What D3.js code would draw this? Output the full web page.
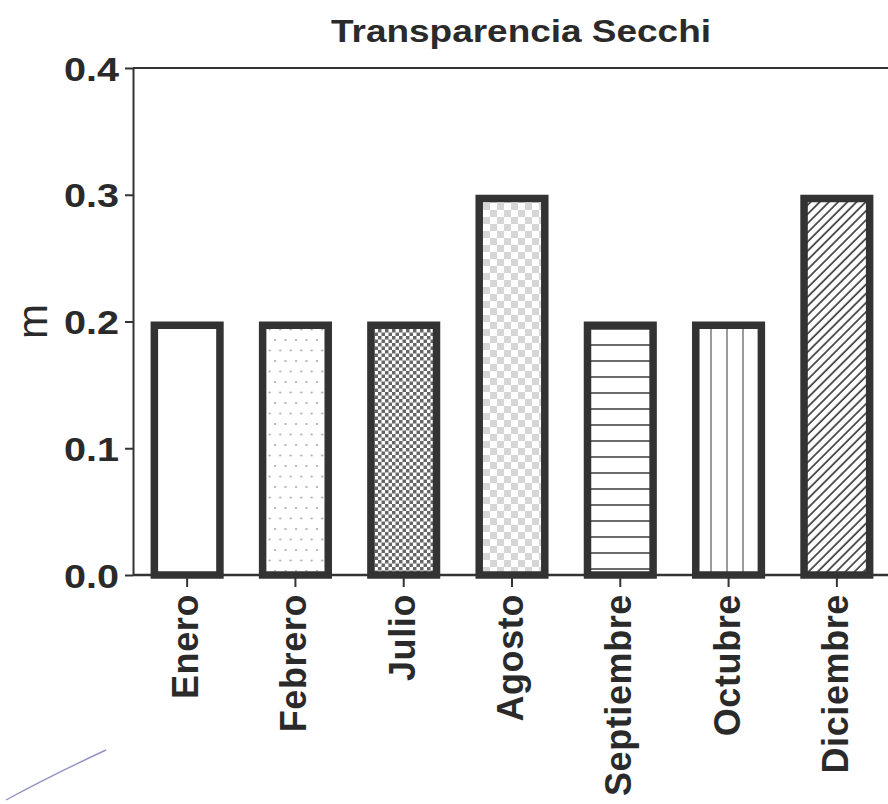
<!DOCTYPE html>
<html>
<head>
<meta charset="utf-8">
<script src="https://cdn.jsdelivr.net/npm/d3@7"></script>
<style>
  html, body { margin: 0; padding: 0; background: #fff; }
  svg { display: block; }
  text { font-family: "Liberation Sans", Arial, sans-serif; fill: #2a2a2a; }
</style>
</head>
<body>
<svg id="chart" width="888" height="804"></svg>
<script>
// ---- Data ----
const categories = ["Enero", "Febrero", "Julio", "Agosto", "Septiembre", "Octubre", "Diciembre"];
const values = [0.2, 0.2, 0.2, 0.3, 0.2, 0.2, 0.3];
const fills = ["none", "dots", "checkFine", "checkLight", "hlines", "vlines", "diag"];
const yTicks = [0.0, 0.1, 0.2, 0.3, 0.4];
const title = "Transparencia Secchi";
const yLabel = "m";

(function () {
// ---- Setup ----
const svg = d3.select("#chart");
const ink = "#333";
const mLeft = 133, mRight = 891, mTop = 68, mBottom = 575;

const x = d3.scaleBand().domain(categories).range([mLeft, mRight])
  .paddingInner(0.325).paddingOuter(0.1625);
const y = d3.scaleLinear().domain([0, 0.4]).range([mBottom, mTop]);

// ---- Patterns ----
const defs = svg.append("defs");
// sparse staggered dots
let p = defs.append("pattern").attr("id", "dots").attr("patternUnits", "userSpaceOnUse")
  .attr("width", 10.5).attr("height", 21);
p.append("rect").attr("width", 10.5).attr("height", 21).attr("fill", "#fff");
p.append("circle").attr("cx", 2).attr("cy", 4).attr("r", 1.1).attr("fill", "#a8a8a8");
p.append("circle").attr("cx", 7.2).attr("cy", 14.5).attr("r", 1.1).attr("fill", "#a8a8a8");
// fine dark checker
p = defs.append("pattern").attr("id", "checkFine").attr("patternUnits", "userSpaceOnUse")
  .attr("width", 7).attr("height", 7);
p.append("rect").attr("width", 7).attr("height", 7).attr("fill", "#fff");
p.append("rect").attr("width", 3.5).attr("height", 3.5).attr("fill", "#666");
p.append("rect").attr("x", 3.5).attr("y", 3.5).attr("width", 3.5).attr("height", 3.5).attr("fill", "#666");
// light big checker
p = defs.append("pattern").attr("id", "checkLight").attr("patternUnits", "userSpaceOnUse")
  .attr("width", 14).attr("height", 14);
p.append("rect").attr("width", 14).attr("height", 14).attr("fill", "#fff");
p.append("rect").attr("width", 7).attr("height", 7).attr("fill", "#d6d6d6");
p.append("rect").attr("x", 7).attr("y", 7).attr("width", 7).attr("height", 7).attr("fill", "#d6d6d6");
// horizontal lines
p = defs.append("pattern").attr("id", "hlines").attr("patternUnits", "userSpaceOnUse")
  .attr("width", 10).attr("height", 16).attr("y", 8);
p.append("rect").attr("width", 10).attr("height", 16).attr("fill", "#fff");
p.append("line").attr("x1", 0).attr("x2", 10).attr("y1", 1).attr("y2", 1)
  .attr("stroke", "#444").attr("stroke-width", 1.6);
// vertical lines
p = defs.append("pattern").attr("id", "vlines").attr("patternUnits", "userSpaceOnUse")
  .attr("width", 16).attr("height", 10).attr("x", 710);
p.append("rect").attr("width", 16).attr("height", 10).attr("fill", "#fff");
p.append("line").attr("y1", 0).attr("y2", 10).attr("x1", 1).attr("x2", 1)
  .attr("stroke", "#666").attr("stroke-width", 1.3);
// diagonal hatch
p = defs.append("pattern").attr("id", "diag").attr("patternUnits", "userSpaceOnUse")
  .attr("width", 6.5).attr("height", 10).attr("patternTransform", "rotate(45)");
p.append("rect").attr("width", 6.5).attr("height", 10).attr("fill", "#fff");
p.append("line").attr("y1", 0).attr("y2", 10).attr("x1", 1).attr("x2", 1)
  .attr("stroke", "#333").attr("stroke-width", 1.6);

// ---- Bars ----
const sw = 7.5;
svg.append("g").selectAll("rect")
  .data(categories.map((c, i) => ({ c, v: values[i], f: fills[i] })))
  .join("rect")
  .attr("x", d => x(d.c) + sw / 2)
  .attr("width", x.bandwidth() - sw)
  .attr("y", d => y(d.v) + sw / 2)
  .attr("height", d => y(0) - y(d.v) - sw / 2)
  .attr("fill", d => d.f === "none" ? "#fff" : `url(#${d.f})`)
  .attr("stroke", ink)
  .attr("stroke-width", sw);

// ---- Top frame line ----
svg.append("line")
  .attr("x1", mLeft).attr("x2", 888)
  .attr("y1", y(0.4)).attr("y2", y(0.4))
  .attr("stroke", ink).attr("stroke-width", 2);

// ---- Y axis ----
const yAxis = svg.append("g").attr("transform", `translate(${mLeft},0)`)
  .call(d3.axisLeft(y).tickValues(yTicks).tickFormat(d3.format(".1f")).tickSize(8).tickSizeOuter(0));
yAxis.select(".domain").attr("stroke", ink).attr("stroke-width", 2);
yAxis.selectAll(".tick line").attr("stroke", ink).attr("stroke-width", 2);
yAxis.selectAll(".tick text")
  .attr("x", -14).attr("dy", "12px")
  .attr("font-size", 33).attr("font-weight", "bold")
  .attr("textLength", 55).attr("lengthAdjust", "spacingAndGlyphs")
  .style("fill", "#2a2a2a");

// ---- X axis ----
const xAxis = svg.append("g").attr("transform", `translate(0,${mBottom})`)
  .call(d3.axisBottom(x).tickSize(12).tickSizeOuter(0));
xAxis.select(".domain").attr("d", `M${mLeft},0H888`).attr("stroke", ink).attr("stroke-width", 2.5);
xAxis.selectAll(".tick line").attr("stroke", ink).attr("stroke-width", 2);
xAxis.selectAll(".tick text")
  .attr("transform", "translate(11,19) rotate(-90)")
  .attr("x", 0).attr("y", 0).attr("dy", 0)
  .attr("text-anchor", "end")
  .attr("font-size", 36).attr("font-weight", "bold")
  .attr("letter-spacing", 0.6)
  .style("fill", "#2a2a2a");

// ---- Title ----
svg.append("text")
  .attr("x", 521).attr("y", 42)
  .attr("text-anchor", "middle")
  .attr("font-size", 31).attr("font-weight", "bold")
  .attr("textLength", 380).attr("lengthAdjust", "spacingAndGlyphs")
  .text(title);

// ---- Y label ----
svg.append("text")
  .attr("transform", `translate(47,${y(0.2)}) rotate(-90)`)
  .attr("text-anchor", "middle")
  .attr("font-size", 42)
  .text(yLabel);

// ---- Pen stroke artifact (bottom-left) ----
svg.append("path")
  .attr("d", "M6,800 Q50,776 106,750")
  .attr("fill", "none").attr("stroke", "#7d7fb8").attr("stroke-width", 1.4).attr("opacity", 0.85);
})();
</script>
</body>
</html>
